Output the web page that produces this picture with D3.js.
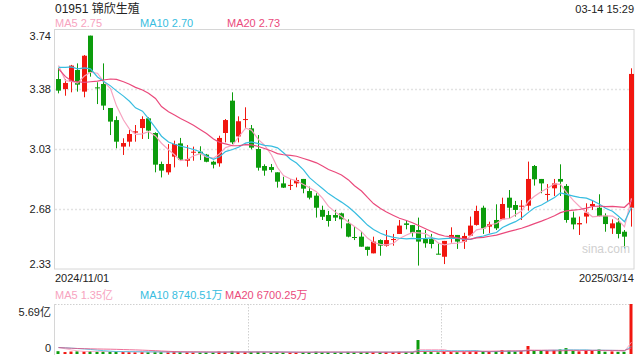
<!DOCTYPE html>
<html><head><meta charset="utf-8">
<script src="https://cdn.jsdelivr.net/npm/d3@7/dist/d3.min.js"></script>
<style>
html,body{margin:0;padding:0;background:#fff;}
svg{display:block;font-family:"Liberation Sans",Arial,sans-serif;}
</style></head><body>
<svg id="c" width="640" height="360"></svg>
<script>
// ---------- data ----------
const opens=[3.446,3.387,3.431,3.499,3.372,3.701,3.397,3.417,3.276,3.205,
3.049,3.078,3.131,3.158,3.215,3.129,2.947,2.898,2.990,3.068,
2.966,3.015,3.019,3.002,2.960,2.951,3.129,3.319,3.109,3.207,
3.156,3.035,2.935,2.929,2.898,2.833,2.820,2.833,2.859,2.788,
2.761,2.677,2.647,2.647,2.657,2.598,2.518,2.520,2.461,2.422,
2.500,2.467,2.502,2.536,2.598,2.588,2.559,2.506,2.506,2.420,
2.402,2.514,2.530,2.491,2.526,2.589,2.690,2.579,2.618,2.622,
2.749,2.706,2.696,2.702,2.935,2.859,2.765,2.804,2.859,2.818,
2.632,2.592,2.638,2.700,2.690,2.643,2.569,2.604,2.549,2.690];
const highs=[3.509,3.446,3.529,3.538,3.587,3.701,3.427,3.538,3.276,3.227,
3.098,3.147,3.176,3.227,3.221,3.133,2.961,3.064,3.084,3.100,
3.058,3.049,3.051,3.006,2.966,3.113,3.211,3.368,3.227,3.280,
3.176,3.117,2.945,2.947,2.898,2.872,2.857,2.867,2.859,2.814,
2.775,2.702,2.671,2.677,2.661,2.622,2.579,2.549,2.461,2.520,
2.504,2.559,2.536,2.618,2.614,2.588,2.632,2.559,2.536,2.481,
2.495,2.575,2.530,2.543,2.638,2.702,2.702,2.608,2.710,2.749,
2.794,2.730,2.735,2.961,2.941,2.859,2.829,2.859,2.945,2.829,
2.667,2.638,2.716,2.730,2.769,2.657,2.622,2.628,2.559,3.509];
const lows=[3.362,3.348,3.368,3.372,3.339,3.460,3.299,3.264,3.117,3.039,
3.000,3.049,3.078,3.094,3.094,2.898,2.868,2.884,2.927,2.970,
2.931,2.966,2.970,2.957,2.921,2.931,3.074,3.064,3.074,3.152,
3.033,2.908,2.878,2.898,2.808,2.806,2.794,2.810,2.775,2.739,
2.632,2.618,2.579,2.612,2.569,2.516,2.500,2.461,2.408,2.422,
2.408,2.461,2.467,2.536,2.563,2.520,2.350,2.455,2.451,2.416,
2.359,2.485,2.448,2.448,2.526,2.585,2.536,2.540,2.559,2.622,
2.628,2.638,2.618,2.673,2.820,2.775,2.731,2.759,2.759,2.602,
2.563,2.530,2.598,2.677,2.638,2.549,2.536,2.510,2.451,2.579];
const closes=[3.378,3.423,3.525,3.413,3.583,3.485,3.394,3.290,3.196,3.078,
3.070,3.123,3.139,3.211,3.143,2.943,2.908,2.947,3.064,2.972,
2.976,3.019,3.009,2.960,2.943,3.100,3.205,3.074,3.198,3.211,
3.043,2.925,2.908,2.912,2.843,2.808,2.824,2.853,2.802,2.749,
2.690,2.637,2.612,2.632,2.622,2.520,2.514,2.461,2.442,2.491,
2.467,2.500,2.506,2.585,2.589,2.543,2.491,2.481,2.477,2.416,
2.495,2.530,2.491,2.524,2.585,2.671,2.569,2.593,2.569,2.712,
2.690,2.677,2.702,2.859,2.857,2.833,2.771,2.833,2.843,2.618,
2.592,2.600,2.661,2.712,2.641,2.594,2.598,2.536,2.520,3.476];
// closes of the 19 sessions before the first candle (only feed the moving averages)
const prevCloses=[4.323,4.045,3.493,3.663,3.405,3.314,3.170,3.076,3.118,3.350,
3.423,3.499,3.531,3.523,3.543,3.868,3.547,3.464,3.372];
// volume, unit 万 shares
const volumes=[3200,2200,2800,3000,2900,3300,2600,2800,2500,2700,
2300,2100,2000,2400,2200,2600,2300,2000,2500,2200,
2000,1900,1800,2000,1900,2800,2400,3500,2200,2000,
2300,2400,1900,1800,2100,1900,1700,1800,2000,2100,
2600,2200,2000,1800,2000,2400,2100,2300,2200,2100,
2000,2300,2200,2500,2100,2300,15900,2800,2500,1900,
2600,2400,2300,2500,3000,3400,3400,2500,3400,4500,
3800,3000,3600,9100,3400,3600,4000,4200,5200,6700,
3600,3000,4000,4200,5100,2600,3000,2500,2500,56900];
const prevVolumes=[9000,11000,8000,7000,6500,6000,5500,5000,6000,7000,
6500,6000,7500,8000,9000,10000,9000,8000,7000];
const priceTicks=[3.74,3.3875,3.035,2.6825,2.33];
const priceTickLabels=["3.74","3.38","3.03","2.68","2.33"];
const dateLabels=["2024/11/01","2025/03/14"];
const titleText="01951 锦欣生殖";
const timeText="03-14 15:29";
const maPeriods=[5,10,20];
const maNames=["MA5","MA10","MA20"];
const maValues=["2.75","2.70","2.73"];
const volMaValues=["1.35亿","8740.51万","6700.25万"];
const volMax=56900;
const volTickLabels=["5.69亿","0"];
const maColors=["#f7a3c0","#38bde0","#ea4a7c"];
const upColor="#f1160f", downColor="#0c9c0c";

// ---------- drawing ----------
const svg=d3.select("#c");
const N=closes.length;
const L=55,R=634,T=29,B=269;
const x=d3.scaleBand().domain(d3.range(N)).range([L,R]).paddingInner(0.22).paddingOuter(0.1);
const cx=i=>Math.round(x(i)+x.bandwidth()/2)+0.5;
const y=d3.scaleLinear().domain([priceTicks[4],priceTicks[0]]).range([B,T]);

// frame
svg.append("rect").attr("x",L-0.5).attr("y",T+0.5).attr("width",R-L+0.5).attr("height",B-T-0.5)
  .attr("fill","none").attr("stroke","#d6d6d6");
// grid
svg.append("g").selectAll("line").data(priceTicks.slice(1,4)).join("line")
  .attr("x1",L).attr("x2",R).attr("y1",d=>Math.round(y(d))+0.5).attr("y2",d=>Math.round(y(d))+0.5)
  .attr("stroke","#e2e2e2").attr("stroke-width",1.5).attr("stroke-dasharray","2,2");
// y axis
const ya=svg.append("g").attr("transform",`translate(${L},0)`)
  .call(d3.axisLeft(y).tickValues(priceTicks).tickFormat((d,i)=>priceTickLabels[i]).tickSize(0).tickPadding(4));
ya.select(".domain").remove();
ya.selectAll("text").attr("font-size",11).attr("fill","#222").attr("font-family","Liberation Sans, Arial, sans-serif")
  .attr("dy",(d,i)=>i===0?"0.95em":(i===4?"-0.15em":"0.32em"));

// candles
const cg=svg.append("g");
const data=d3.range(N).map(i=>({i,o:opens[i],h:highs[i],l:lows[i],c:closes[i]}));
const col=d=>d.c>=d.o?upColor:downColor;
cg.selectAll("line").data(data).join("line")
  .attr("x1",d=>cx(d.i)).attr("x2",d=>cx(d.i))
  .attr("y1",d=>y(d.h)).attr("y2",d=>y(d.l)).attr("stroke",col).attr("stroke-width",1);
const bw=5;
cg.selectAll("rect").data(data).join("rect")
  .attr("x",d=>cx(d.i)-0.5-bw/2+0.5).attr("width",bw)
  .attr("y",d=>y(Math.max(d.o,d.c)))
  .attr("height",d=>Math.max(1,Math.abs(y(d.o)-y(d.c))))
  .attr("fill",col);

// moving averages
function ma(all,p,offset){
  return d3.range(N).map(i=>d3.mean(all.slice(i+offset-p+1,i+offset+1)));
}
const allC=prevCloses.concat(closes);
const off=prevCloses.length;
maPeriods.forEach((p,k)=>{
  const vals=ma(allC,p,off);
  svg.append("path").datum(vals).attr("fill","none").attr("stroke",maColors[k]).attr("stroke-width",1.2)
    .attr("d",d3.line().x((d,i)=>cx(i)).y(d=>y(d)));
});

// watermark
svg.append("text").attr("x",582).attr("y",253).attr("font-size",12).attr("fill","#d0d0d0").text("sina.com");

// header texts
svg.append("text").attr("x",55).attr("y",13).attr("font-size",12).attr("fill","#222")
  .attr("font-family","Liberation Sans, 'Noto Sans CJK SC', sans-serif").text(titleText);
svg.append("text").attr("x",634).attr("y",13).attr("text-anchor","end").attr("font-size",11).attr("fill","#222").text(timeText);
const legX=[55,140,227];
maNames.forEach((n,k)=>{
  svg.append("text").attr("x",legX[k]).attr("y",27).attr("font-size",11).attr("fill",maColors[k]).text(n+" "+maValues[k]);
});
// date labels
svg.append("text").attr("x",55).attr("y",282).attr("font-size",11).attr("fill","#222").text(dateLabels[0]);
svg.append("text").attr("x",634).attr("y",282).attr("text-anchor","end").attr("font-size",11).attr("fill","#222").text(dateLabels[1]);

// ---------- volume ----------
const VT=304,VB=354;
const yv=d3.scaleLinear().domain([0,volMax]).range([VB,VT]);
const vlegX=[55,140,225];
maNames.forEach((n,k)=>{
  svg.append("text").attr("x",vlegX[k]).attr("y",299).attr("font-size",11).attr("fill",maColors[k])
    .attr("font-family","Liberation Sans, 'Noto Sans CJK SC', sans-serif").text(n+" "+volMaValues[k]);
});
svg.append("text").attr("x",51).attr("y",316).attr("text-anchor","end").attr("font-size",11).attr("fill","#222")
  .attr("font-family","Liberation Sans, 'Noto Sans CJK SC', sans-serif").text(volTickLabels[0]);
svg.append("text").attr("x",51).attr("y",352).attr("text-anchor","end").attr("font-size",11).attr("fill","#222").text(volTickLabels[1]);
svg.append("line").attr("x1",L-0.5).attr("x2",L-0.5).attr("y1",VT).attr("y2",VB+1).attr("stroke","#d6d6d6");
svg.append("line").attr("x1",L).attr("x2",R).attr("y1",VT+0.5).attr("y2",VT+0.5).attr("stroke","#d0d0d0").attr("stroke-dasharray","1.5,1.5");
[1/3,2/3].forEach(f=>{
  const xx=Math.round(L+(R-L)*f)+0.5;
  svg.append("line").attr("x1",xx).attr("x2",xx).attr("y1",VT).attr("y2",VB).attr("stroke","#d0d0d0").attr("stroke-dasharray","1.5,1.5");
});
svg.append("g").selectAll("rect").data(data).join("rect")
  .attr("x",d=>cx(d.i)-2).attr("width",3)
  .attr("y",d=>yv(volumes[d.i])).attr("height",d=>VB-yv(volumes[d.i]))
  .attr("fill",col);
const allV=prevVolumes.concat(volumes);
maPeriods.forEach((p,k)=>{
  const vals=ma(allV,p,prevVolumes.length);
  svg.append("path").datum(vals).attr("fill","none").attr("stroke",maColors[k]).attr("stroke-width",1).attr("opacity",0.8)
    .attr("d",d3.line().x((d,i)=>cx(i)).y(d=>yv(d)));
});
</script>
</body></html>
